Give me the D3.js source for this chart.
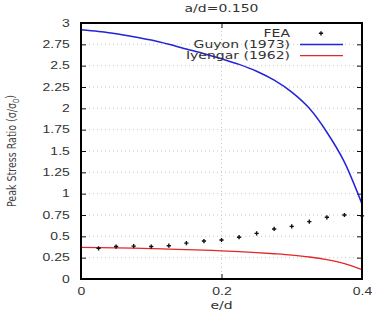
<!DOCTYPE html>
<html>
<head>
<meta charset="utf-8">
<script src="https://cdn.jsdelivr.net/npm/d3@7"></script>
<style>
  body { margin: 0; background: #fff; }
  svg { display: block; font-family: "DejaVu Sans", sans-serif; }
</style>
</head>
<body>
<svg id="chart"></svg>
<script>
const outerWidth = 372;
const outerHeight = 311;
const margin = { top: 23, right: 10, bottom: 32, left: 81 };
const width = outerWidth - margin.left - margin.right;   // 281
const height = outerHeight - margin.top - margin.bottom; // 256
const stretch = 1.4; // the source image is stretched horizontally

// values
const titleText = "a/d=0.150";
const xTicks = [0, 0.2, 0.4];
const yTicks = [0, 0.25, 0.5, 0.75, 1, 1.25, 1.5, 1.75, 2, 2.25, 2.5, 2.75, 3];

const feaX = [0.025, 0.05, 0.075, 0.1, 0.125, 0.15, 0.175, 0.2, 0.225, 0.25, 0.275, 0.3, 0.325, 0.35, 0.375, 0.4];
const feaY = [0.36, 0.38, 0.385, 0.38, 0.39, 0.42, 0.445, 0.457, 0.49, 0.535, 0.586, 0.617, 0.672, 0.723, 0.75, 0.74];

const guyonX = [0, 0.025, 0.05, 0.075, 0.1, 0.125, 0.15, 0.175, 0.2, 0.225, 0.25, 0.275, 0.3, 0.325, 0.35, 0.375, 0.4];
const guyonY = [2.92, 2.90, 2.875, 2.84, 2.80, 2.75, 2.695, 2.64, 2.58, 2.515, 2.435, 2.33, 2.19, 2.00, 1.72, 1.37, 0.88];

const iyengarX = [0, 0.025, 0.05, 0.075, 0.1, 0.125, 0.15, 0.175, 0.2, 0.225, 0.25, 0.275, 0.3, 0.325, 0.35, 0.375, 0.4];
const iyengarY = [0.37, 0.368, 0.365, 0.361, 0.356, 0.351, 0.345, 0.338, 0.33, 0.321, 0.31, 0.296, 0.28, 0.258, 0.226, 0.18, 0.11];

const seriesNames = ["FEA", "Guyon (1973)", "Iyengar (1962)"];
const seriesColors = ["#111", "#2323d8", "#e2262a"];

const svg = d3.select("#chart")
    .attr("width", outerWidth)
    .attr("height", outerHeight);

const g = svg.append("g")
    .attr("transform", `translate(${margin.left},${margin.top})`);

const x = d3.scaleLinear().domain([0, 0.4]).range([0, width]);
const y = d3.scaleLinear().domain([0, 3]).range([height, 0]);

// dotted grid
g.append("g").selectAll("line.gy")
    .data(yTicks.slice(1, -1))
    .enter().append("line")
    .attr("x1", 0).attr("x2", width)
    .attr("y1", d => y(d)).attr("y2", d => y(d))
    .attr("stroke", "#c8c8c8")
    .attr("stroke-dasharray", "1,3");

g.append("g").selectAll("line.gx")
    .data(xTicks.slice(1, -1))
    .enter().append("line")
    .attr("x1", d => x(d)).attr("x2", d => x(d))
    .attr("y1", 0).attr("y2", height)
    .attr("stroke", "#c8c8c8")
    .attr("stroke-dasharray", "1,3");

// axes, ticks pointing inward
const fmt = d => String(d);
const styleAxis = (sel, showText) => {
    sel.select(".domain").remove();
    sel.selectAll(".tick line").attr("stroke", "#111").attr("stroke-width", 1);
    sel.selectAll(".tick text")
        .attr("fill", "#333")
        .style("font-size", "10px")
        .style("display", showText ? null : "none")
        .attr("transform", `scale(${stretch},1)`);
};

g.append("g")
    .call(d3.axisLeft(y).tickValues(yTicks).tickFormat(fmt).tickSize(-5).tickPadding(8))
    .call(s => styleAxis(s, true));

g.append("g")
    .attr("transform", `translate(${width},0)`)
    .call(d3.axisRight(y).tickValues(yTicks).tickSize(-5))
    .call(s => styleAxis(s, false));

g.append("g")
    .attr("transform", `translate(0,${height})`)
    .call(d3.axisBottom(x).tickValues(xTicks).tickFormat(fmt).tickSize(-5).tickPadding(9))
    .call(s => styleAxis(s, true));

g.append("g")
    .call(d3.axisTop(x).tickValues(xTicks).tickSize(-5))
    .call(s => styleAxis(s, false));

// curves
const line = d3.line()
    .x(d => x(d[0]))
    .y(d => y(d[1]))
    .curve(d3.curveMonotoneX);

g.append("path")
    .datum(guyonX.map((v, i) => [v, guyonY[i]]))
    .attr("fill", "none")
    .attr("stroke", seriesColors[1])
    .attr("stroke-width", 1.5)
    .attr("d", line);

g.append("path")
    .datum(iyengarX.map((v, i) => [v, iyengarY[i]]))
    .attr("fill", "none")
    .attr("stroke", seriesColors[2])
    .attr("stroke-width", 1.3)
    .attr("d", line);

const cross = d3.symbol().type(d3.symbolCross).size(10);
g.append("g").selectAll("path")
    .data(feaX.map((v, i) => [v, feaY[i]]))
    .enter().append("path")
    .attr("transform", d => `translate(${x(d[0])},${y(d[1])})`)
    .attr("d", cross)
    .attr("fill", seriesColors[0]);

// frame
g.append("rect")
    .attr("width", width)
    .attr("height", height)
    .attr("fill", "none")
    .attr("stroke", "#000")
    .attr("stroke-width", 2);

// legend
const legend = g.append("g")
    .attr("transform", `translate(${209},${10.3})`);

seriesNames.forEach((name, i) => {
    const row = legend.append("g").attr("transform", `translate(0,${i * 11.2})`);
    row.append("text")
        .attr("transform", `scale(${stretch},1)`)
        .attr("dy", "0.35em")
        .attr("text-anchor", "end")
        .attr("fill", "#333")
        .style("font-size", "10px")
        .text(name);
    if (i === 0) {
        row.append("path")
            .attr("transform", "translate(31,0)")
            .attr("d", cross)
            .attr("fill", seriesColors[0]);
    } else {
        row.append("line")
            .attr("x1", 10).attr("x2", 53)
            .attr("stroke", seriesColors[i])
            .attr("stroke-width", i === 1 ? 1.5 : 1.3);
    }
});

// title and axis labels
svg.append("text")
    .attr("transform", `translate(${margin.left + width / 2},11.5) scale(${stretch},1)`)
    .attr("text-anchor", "middle")
    .attr("fill", "#333")
    .style("font-size", "10px")
    .text(titleText);

svg.append("text")
    .attr("transform", `translate(${margin.left + width / 2},309) scale(${stretch},1)`)
    .attr("text-anchor", "middle")
    .attr("fill", "#333")
    .style("font-size", "10px")
    .text("e/d");

const yLabel = svg.append("text")
    .attr("transform", `translate(16,151) scale(${stretch},1) rotate(-90)`)
    .attr("text-anchor", "middle")
    .attr("fill", "#444")
    .style("font-family", "'DejaVu Sans Condensed', 'DejaVu Sans', sans-serif")
    .style("font-stretch", "condensed")
    .style("font-size", "8.5px")
    .attr("textLength", 112)
    .attr("lengthAdjust", "spacingAndGlyphs");
yLabel.append("tspan").text("Peak Stress Ratio (σ/σ");
yLabel.append("tspan").attr("dy", "0.3em").style("font-size", "6px").text("0");
yLabel.append("tspan").attr("dy", "-0.3em").text(")");
</script>
</body>
</html>
